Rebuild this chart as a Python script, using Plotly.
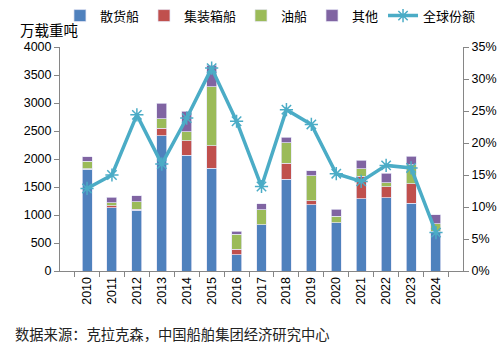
import plotly.graph_objects as go

years = [str(y) for y in range(2010, 2025)]
bulk =      [1816, 1131, 1083, 2417, 2065, 1833, 286, 827, 1637, 1179, 863, 1286, 1309, 1208, 696]
container = [10,   36,   18,   131,  262,  405,  101, 0,   286,  77,   0,   410,  197,  352,  15]
tanker =    [133,  53,   137,  172,  161,  1048, 268, 268, 369,  446,  119, 131,  71,   339,  134]
other =     [83,   101,  107,  280,  369,  387,  59,  107, 95,   89,   125, 155,  167,  149,  160]
share =     [0.129, 0.150, 0.244, 0.167, 0.239, 0.317, 0.234, 0.132, 0.252, 0.229, 0.152, 0.140, 0.165, 0.161, 0.060]

names = ["散货船", "集装箱船", "油船", "其他"]
colors = ["#4F81BD", "#C0504D", "#9BBB59", "#8064A2"]
line_color = "#4BACC6"

FONT = "Liberation Sans, Noto Sans CJK SC, sans-serif"
CJK = "Noto Sans CJK SC, sans-serif"

fig = go.Figure()
for vals, nm, c in zip([bulk, container, tanker, other], names, colors):
    fig.add_trace(go.Bar(x=years, y=vals, name=nm, marker=dict(color=c, line=dict(color="rgba(230,230,245,0.9)", width=0.8)), yaxis="y"))

fig.add_trace(go.Scatter(x=years, y=share, name="全球份额", mode="lines+markers", yaxis="y2",
                         line=dict(color=line_color, width=3.5),
                         marker=dict(symbol="asterisk-open", size=11, color=line_color, line=dict(color=line_color, width=1.5))))

axis_col = "#868686"
fig.update_layout(
    width=500, height=350,
    margin=dict(l=60, r=37, t=47, b=79, autoexpand=False),
    paper_bgcolor="white", plot_bgcolor="white",
    barmode="stack", bargap=0.6,
    font=dict(family=FONT, size=12, color="#000000"),
    showlegend=True,
    legend=dict(orientation="h", x=-0.0001, y=1.14, xanchor="left", yanchor="middle",
                font=dict(family=CJK, size=13), traceorder="normal",
                tracegroupgap=0, bgcolor="rgba(0,0,0,0)"),
    xaxis=dict(type="category", tickangle=-90, showline=True, linecolor=axis_col, linewidth=1,
               ticks="outside", tickson="boundaries", ticklen=5, tickcolor=axis_col,
               tickfont=dict(family=FONT, size=12.5), showgrid=False),
    yaxis=dict(range=[0, 4000], dtick=500, showline=True, linecolor=axis_col, linewidth=1,
               ticks="outside", ticklen=5, tickcolor=axis_col, showgrid=False, zeroline=False,
               tickfont=dict(family=FONT, size=12.5)),
    yaxis2=dict(range=[0, 0.35], dtick=0.05, tickformat=".0%", overlaying="y", side="right",
                showline=True, linecolor=axis_col, linewidth=1, ticks="outside", ticklen=5,
                tickcolor=axis_col, showgrid=False, zeroline=False, tickfont=dict(family=FONT, size=12.5)),
    annotations=[
        dict(text="万载重吨", xref="paper", yref="paper", x=-0.104, y=1.076, xanchor="left", yanchor="middle",
             showarrow=False, font=dict(family=CJK, size=14.5)),
        dict(text="数据来源：克拉克森，中国船舶集团经济研究中心", xref="paper", yref="paper", x=-0.116, y=-0.277,
             xanchor="left", yanchor="middle", showarrow=False, font=dict(family=CJK, size=14.3, color="#222222")),
    ],
)

fig.write_html("out.html")
